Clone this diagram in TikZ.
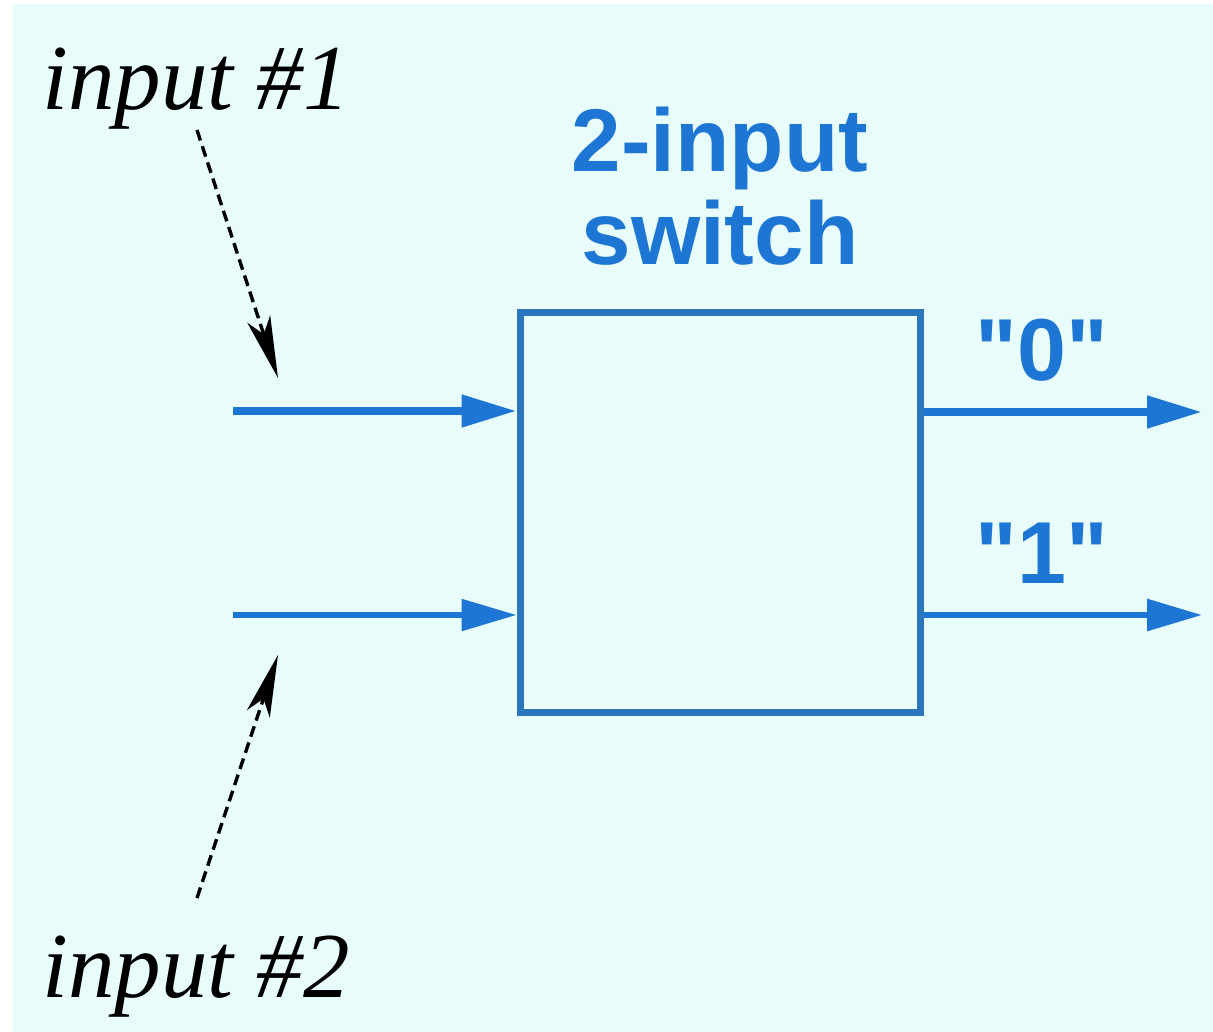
\documentclass[tikz,border=0pt]{standalone}
\usepackage{fontspec}
\newfontfamily\arialf{Liberation Sans}
\newfontfamily\timesf{Liberation Serif}
\usetikzlibrary{arrows.meta}
\definecolor{bgcyan}{RGB}{232,252,252}
\definecolor{swblue}{RGB}{30,118,212}
\definecolor{boxblue}{RGB}{44,118,190}
\tikzset{
  title/.style={anchor=base, inner sep=0pt, text=swblue, font=\arialf\bfseries\fontsize{89}{93}\selectfont},
  outlab/.style={anchor=base, inner sep=0pt, text=swblue, font=\arialf\bfseries\fontsize{88}{93}\selectfont},
  inlab/.style={anchor=base west, inner sep=0pt, text=black, font=\timesf\itshape\fontsize{93}{96}\selectfont},
  swbox/.style={draw=boxblue, line width=7pt, minimum width=400pt, minimum height=400pt, inner sep=0pt},
  sigline/.style={draw=swblue, -{Triangle[length=55pt,width=31pt]}},
  pointer/.style={draw=black, line width=3.4pt, dash pattern=on 11pt off 6pt, -{Stealth[length=62pt,width=24pt,inset=16pt]}}
}
\begin{document}
\begin{tikzpicture}[x=1pt,y=-1pt]
\useasboundingbox (0,0) rectangle (1213,1032);
\fill[white] (0,0) rectangle (1213,1032);
\fill[bgcyan] (13,4) rectangle (1213,1032);

\node[title] (t1) at (720,172) {2-input};
\node[title] (t2) at (720,265) {switch};

\node[swbox] (sw) at (720,512.75) {};

\coordinate (in1) at (233,411);
\coordinate (in2) at (233,615);
\coordinate (out0) at (1202,412);
\coordinate (out1) at (1202,615);

\draw[sigline, line width=8pt] (in1) -- (sw.west |- in1);
\draw[sigline, line width=5.5pt] (in2) -- (sw.west |- in2);
\draw[sigline, line width=8pt] (sw.east |- out0) -- (out0);
\draw[sigline, line width=6pt] (sw.east |- out1) -- (out1);

\node[outlab] (l0) at (1042,380) {"0"};
\node[outlab] (l1) at (1042,583) {"1"};

\node[inlab] (lab1) at (42,110) {input \#1};
\node[inlab] (lab2) at (42,997) {input \#2};

\coordinate (p1s) at (197,130);
\coordinate (p1e) at (278,378);
\coordinate (p2s) at (197,898);
\coordinate (p2e) at (278,655);
\draw[pointer] (p1s) -- (p1e);
\draw[pointer] (p2s) -- (p2e);
\end{tikzpicture}
\end{document}
